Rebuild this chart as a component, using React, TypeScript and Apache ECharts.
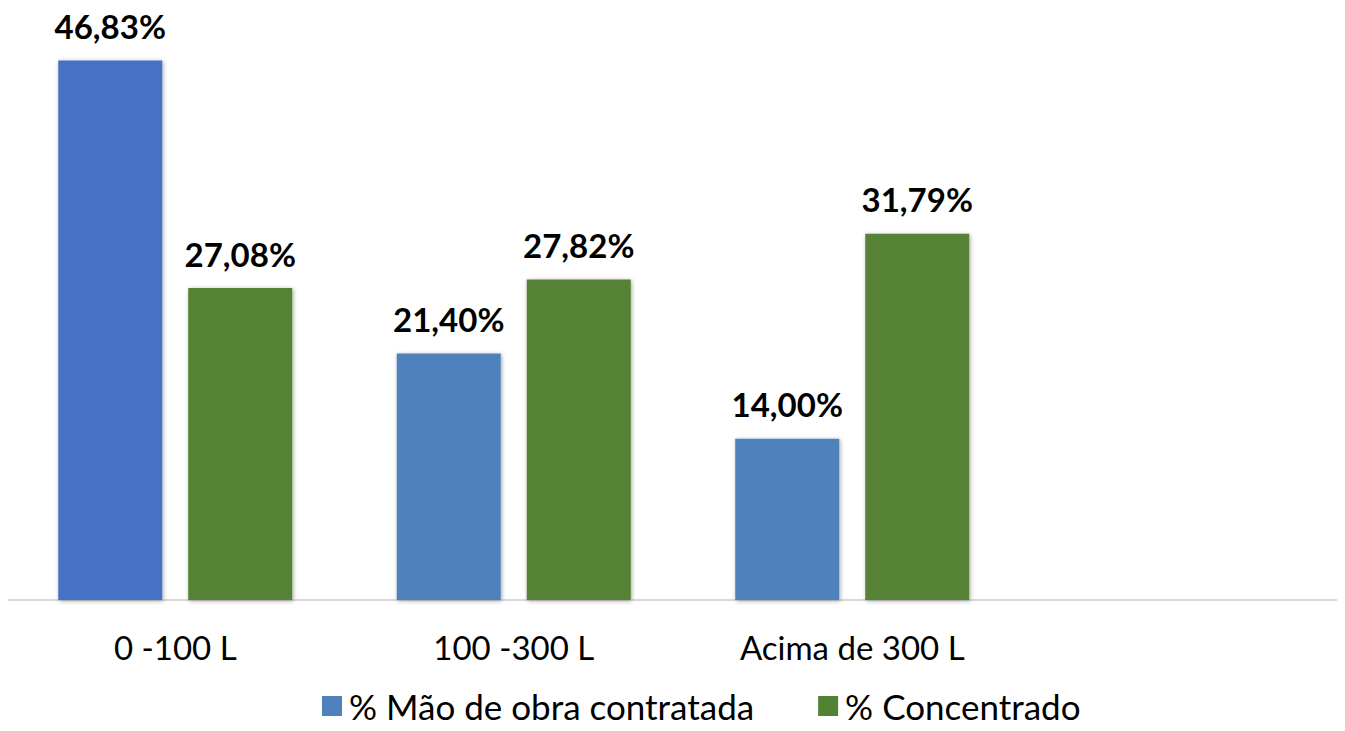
import React, { useEffect, useRef } from "react";
import * as echarts from "echarts";

const categories = ["0 -100 L", "100 -300 L", "Acima de 300 L", ""];
const maoDeObra = [46.83, 21.4, 14.0, null];
const concentrado = [27.08, 27.82, 31.79, null];
const seriesNames = ["% Mão de obra contratada", "% Concentrado"];

const BLUE = "#4F81BD";
const BLUE_FIRST = "#4472C4";
const GREEN = "#548235";
const FONT = "Lato, 'Open Sans', sans-serif";

const fmt = (v: number) => v.toFixed(2).replace(".", ",") + "%";

export default function App() {
  const ref = useRef<HTMLDivElement>(null);
  useEffect(() => {
    if (!ref.current) return;
    const chart = echarts.init(ref.current, null, { renderer: "svg" });
    const shadow = {
      shadowBlur: 4,
      shadowColor: "rgba(0,0,0,0.35)",
      shadowOffsetX: 1,
      shadowOffsetY: 1,
    };
    const label = {
      show: true,
      position: "top" as const,
      distance: 18,
      fontFamily: FONT,
      fontWeight: "bold" as const,
      fontSize: 33,
      color: "#000",
      formatter: (p: any) => fmt(p.value),
    };
    chart.setOption({
      animation: false,
      grid: {
        left: 6,
        width: 1354,
        top: 24,
        height: 576,
        containLabel: false,
        outerBoundsMode: "none",
      },
      legend: {
        top: 686,
        left: 322,
        padding: 0,
        itemWidth: 20,
        itemHeight: 20,
        itemGap: 64,
        icon: "rect",
        textStyle: {
          fontFamily: FONT,
          fontSize: 35,
          lineHeight: 40,
          color: "#000",
          padding: [0, 0, 0, 2],
        },
        data: seriesNames,
      },
      xAxis: {
        type: "category",
        data: categories,
        axisLine: { show: true, lineStyle: { color: "#d9d9d9", width: 2 } },
        axisTick: { show: false },
        axisLabel: { fontFamily: FONT, fontSize: 33, color: "#000", margin: 30 },
      },
      yAxis: {
        type: "value",
        min: 0,
        max: 50,
        show: false,
        splitLine: { show: false },
      },
      series: [
        {
          name: seriesNames[0],
          type: "bar",
          barWidth: 104,
          barGap: "25%",
          itemStyle: { color: BLUE, ...shadow },
          label,
          data: maoDeObra.map((v, i) =>
            i === 0 ? { value: v, itemStyle: { color: BLUE_FIRST, ...shadow } } : v
          ),
        },
        {
          name: seriesNames[1],
          type: "bar",
          barWidth: 104,
          barGap: "25%",
          itemStyle: { color: GREEN, ...shadow },
          label,
          data: concentrado,
        },
      ],
    });
    return () => chart.dispose();
  }, []);
  return (
    <div style={{ width: 1345, height: 731, margin: -8, overflow: "hidden" }}>
      <div ref={ref} style={{ width: 1362, height: 731 }} />
    </div>
  );
}
